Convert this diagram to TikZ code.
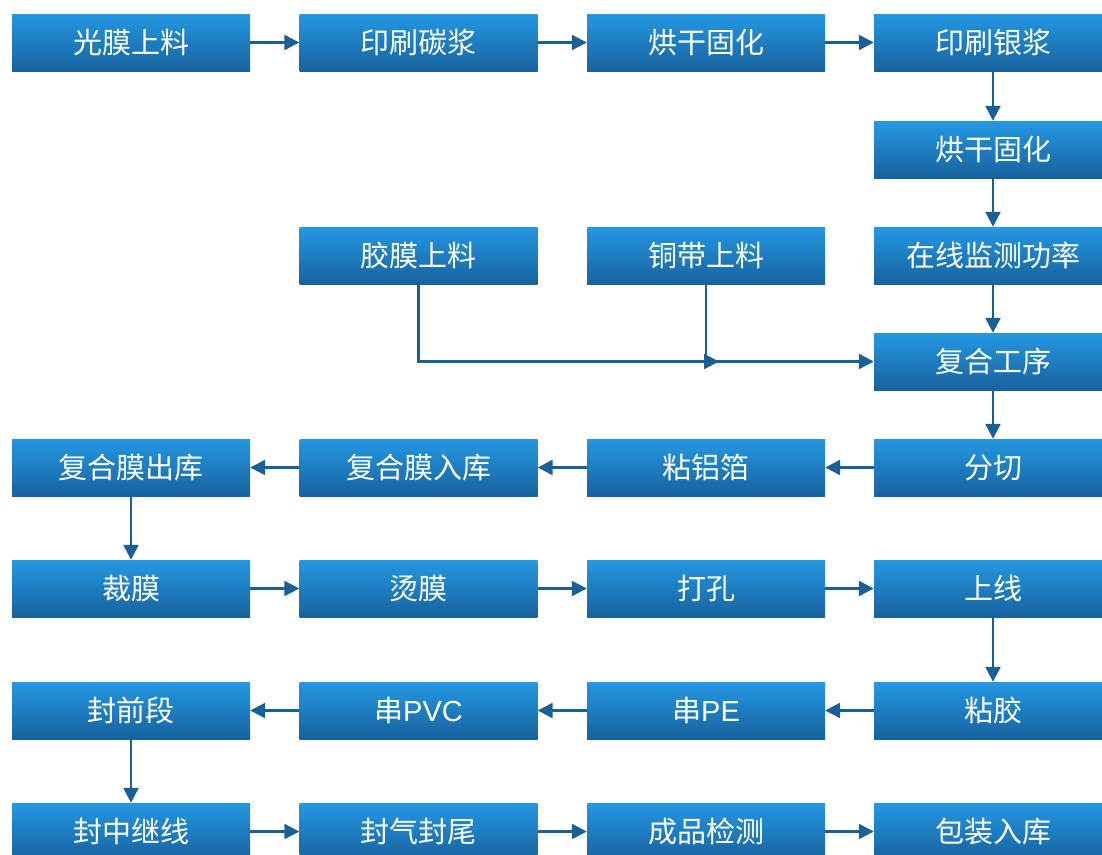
\documentclass[tikz,border=0pt]{standalone}
\usepackage{fontspec}
\setmainfont{Liberation Sans}
\newfontfamily\cjk{Noto Sans CJK SC}
\usetikzlibrary{arrows.meta}
\definecolor{boxtop}{RGB}{36,152,226}
\definecolor{boxbottom}{RGB}{24,98,158}
\definecolor{flowline}{RGB}{26,96,150}

\tikzset{
  proc/.style={rectangle, draw=none, top color=boxtop, bottom color=boxbottom,
    minimum width=238pt, minimum height=57pt, inner sep=0pt,
    text=white, font=\fontsize{29}{32}\selectfont\cjk},
  flow/.style={draw=flowline, line width=2.4pt,
    -{Triangle[length=15pt, width=15pt]}}
}

\begin{document}
\begin{tikzpicture}[x=1pt, y=-1pt]
    \useasboundingbox (0,0) rectangle (1102,854);
    \clip (0,0) rectangle (1102,854);
    % row 1
    \node[proc] (film)   at (131,42.5)   {光膜上料};
    \node[proc] (carbon) at (418.5,42.5) {印刷碳浆};
    \node[proc] (dryA)   at (706,42.5)   {烘干固化};
    \node[proc] (silver) at (993,42.5)   {印刷银浆};
    % right column
    \node[proc] (dryB)   at (993,149.5)  {烘干固化};
    \node[proc] (glue)   at (418.5,255.5) {胶膜上料};
    \node[proc] (copper) at (706,255.5)  {铜带上料};
    \node[proc] (power)  at (993,255.5)  {在线监测功率};
    \node[proc] (laminate) at (993,361.5) {复合工序};
    % row 5
    \node[proc] (cut)    at (993,467.5)  {分切};
    \node[proc] (foil)   at (706,467.5)  {粘铝箔};
    \node[proc] (stockin) at (418.5,467.5) {复合膜入库};
    \node[proc] (stockout) at (131,467.5) {复合膜出库};
    % row 6
    \node[proc] (trim)   at (131,588.5)  {裁膜};
    \node[proc] (iron)   at (418.5,588.5) {烫膜};
    \node[proc] (punch)  at (706,588.5)  {打孔};
    \node[proc] (online) at (993,588.5)  {上线};
    % row 7
    \node[proc] (paste)  at (993,710.5)  {粘胶};
    \node[proc] (pe)     at (706,710.5)  {串{\fontspec{Liberation Sans}PE}};
    \node[proc] (pvc)    at (418.5,710.5) {串{\fontspec{Liberation Sans}PVC}};
    \node[proc] (sealF)  at (131,710.5)  {封前段};
    % row 8
    \node[proc] (sealM)  at (131,831.5)  {封中继线};
    \node[proc] (sealE)  at (418.5,831.5) {封气封尾};
    \node[proc] (check)  at (706,831.5)  {成品检测};
    \node[proc] (pack)   at (993,831.5)  {包装入库};

    \coordinate (merge) at (719,361.5);

    \draw[flow] (film) -- (carbon);
    \draw[flow] (carbon) -- (dryA);
    \draw[flow] (dryA) -- (silver);
    \draw[flow] (silver) -- (dryB);
    \draw[flow] (dryB) -- (power);
    \draw[flow] (power) -- (laminate);
    \draw[flow] (glue.south) |- (merge);
    \draw[flow] (copper.south) |- (laminate.west);
    \draw[flow] (laminate) -- (cut);
    \draw[flow] (cut) -- (foil);
    \draw[flow] (foil) -- (stockin);
    \draw[flow] (stockin) -- (stockout);
    \draw[flow] (stockout) -- (trim);
    \draw[flow] (trim) -- (iron);
    \draw[flow] (iron) -- (punch);
    \draw[flow] (punch) -- (online);
    \draw[flow] (online) -- (paste);
    \draw[flow] (paste) -- (pe);
    \draw[flow] (pe) -- (pvc);
    \draw[flow] (pvc) -- (sealF);
    \draw[flow] (sealF) -- (sealM);
    \draw[flow] (sealM) -- (sealE);
    \draw[flow] (sealE) -- (check);
    \draw[flow] (check) -- (pack);
  \end{tikzpicture}
\end{document}
